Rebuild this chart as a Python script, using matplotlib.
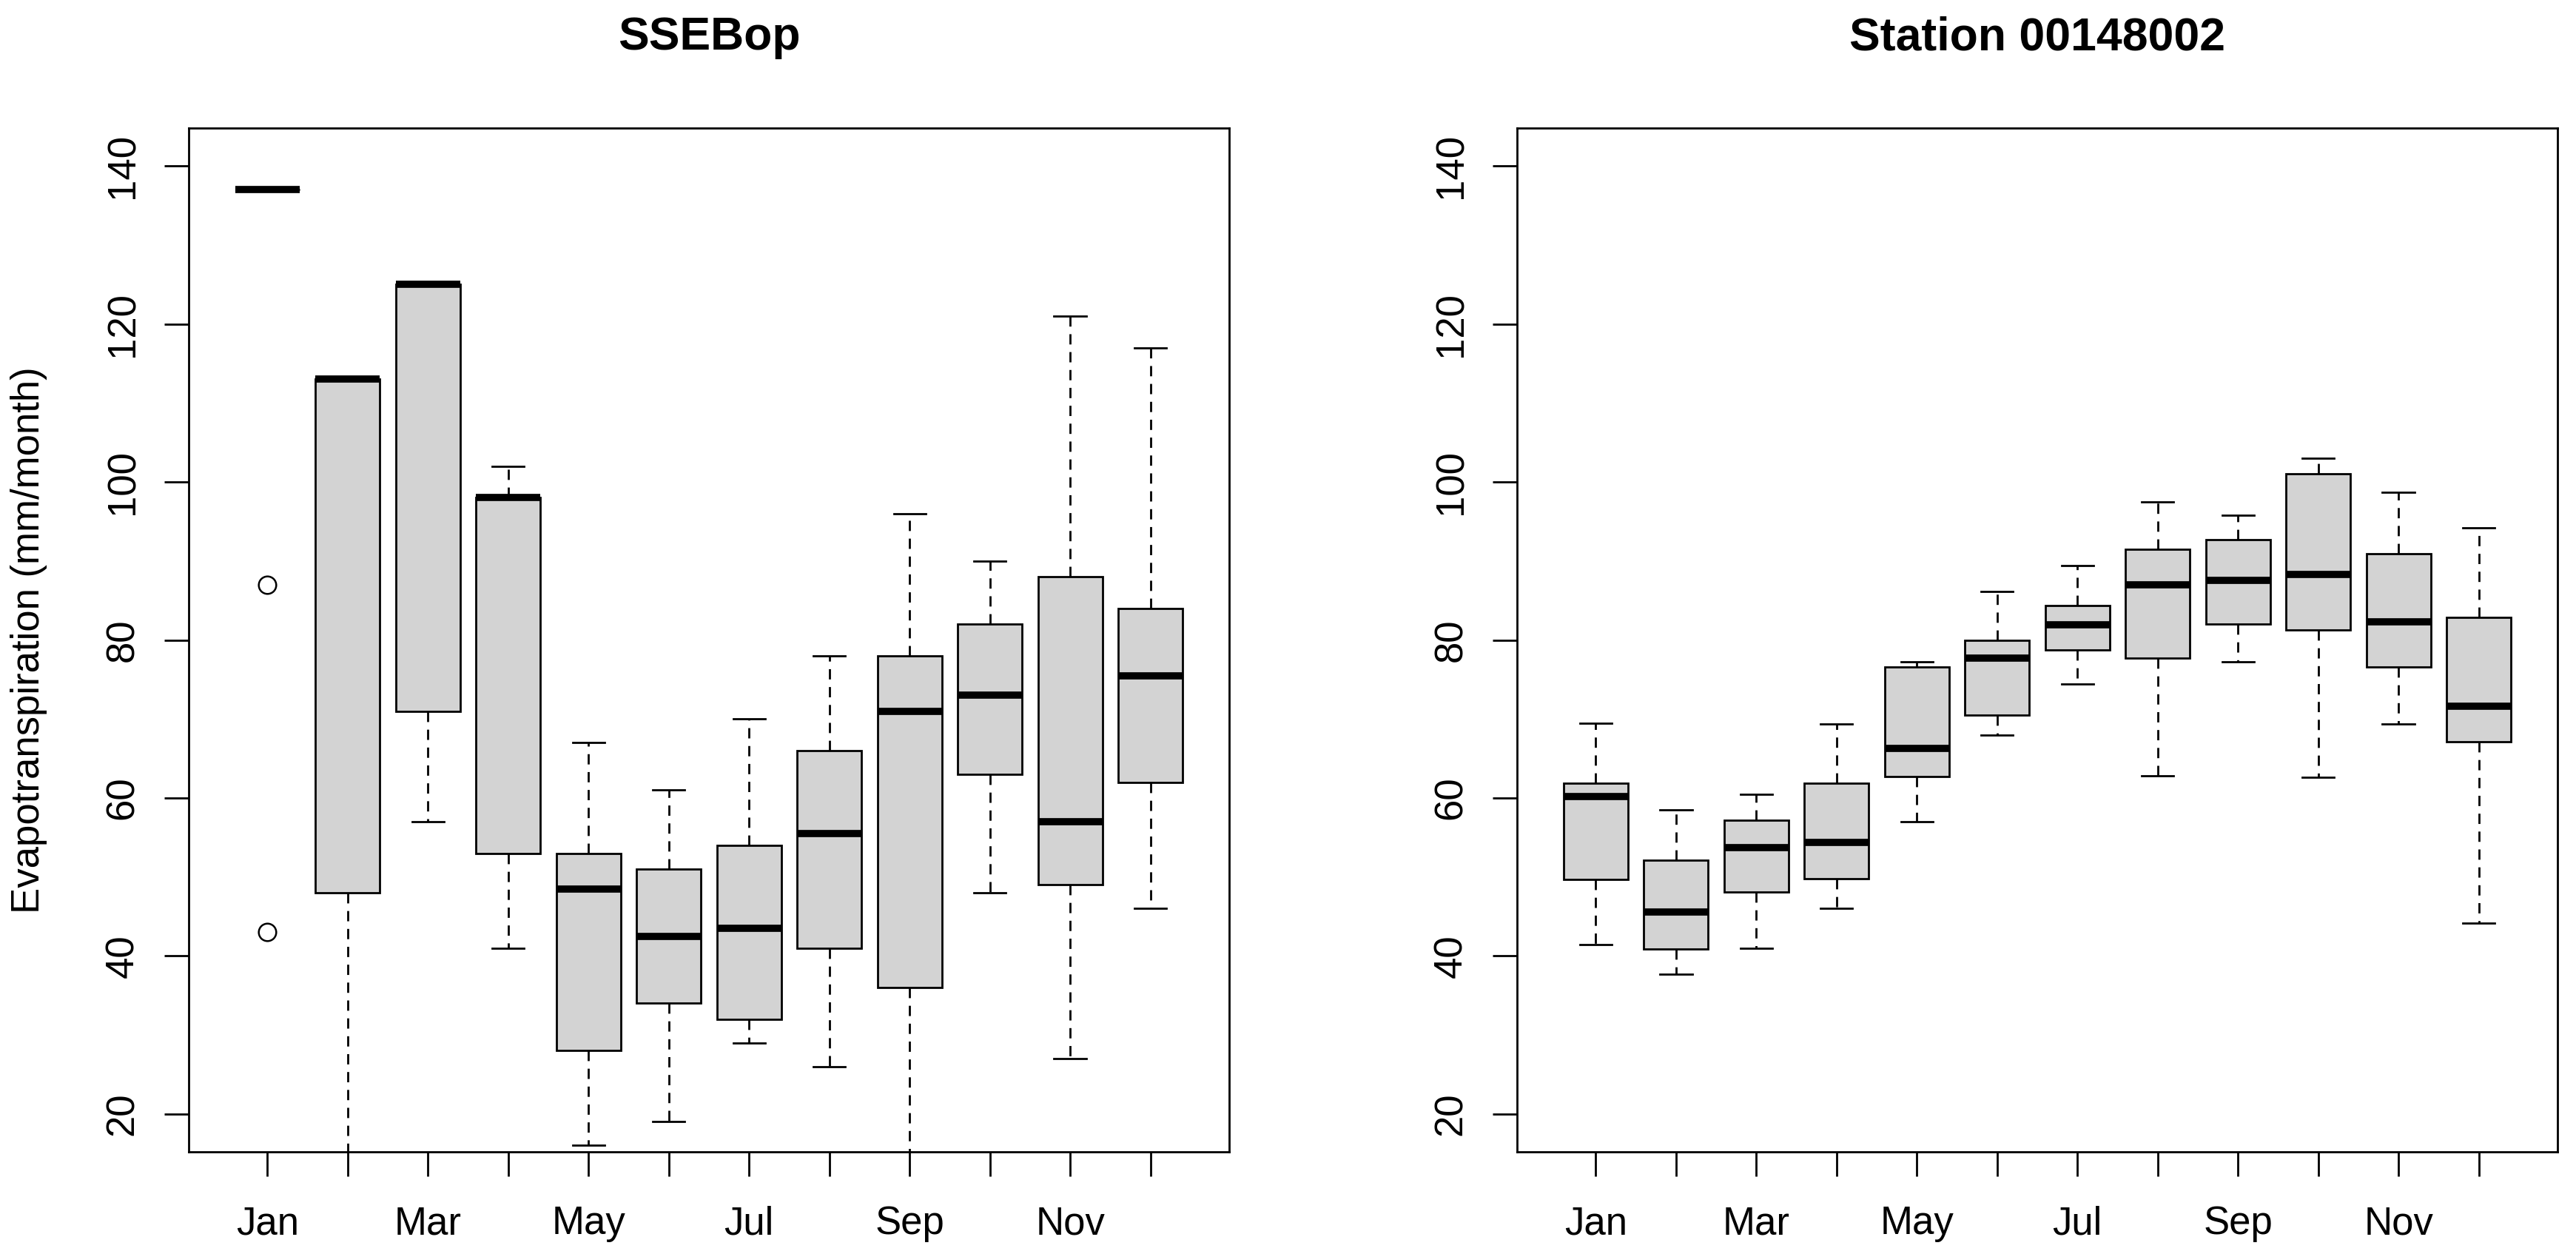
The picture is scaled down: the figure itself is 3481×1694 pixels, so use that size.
import matplotlib
matplotlib.use("Agg")
import matplotlib.pyplot as plt

plt.rcParams["font.family"] = ["Liberation Sans", "DejaVu Sans"]

months = ["Jan", "Feb", "Mar", "Apr", "May", "Jun",
          "Jul", "Aug", "Sep", "Oct", "Nov", "Dec"]
shown_labels = ["Jan", "", "Mar", "", "May", "", "Jul", "", "Sep", "", "Nov", ""]

# SSEBop monthly ET (mm/month)
ssebop_lo = [137, 10, 57, 41, 16, 19, 29, 26, 10, 48, 27, 46]
ssebop_q1 = [137, 48, 71, 53, 28, 34, 32, 41, 36, 63, 49, 62]
ssebop_med = [137, 113, 125, 98, 48.5, 42.5, 43.5, 55.5, 71, 73, 57, 75.5]
ssebop_q3 = [137, 113, 125, 98, 53, 51, 54, 66, 78, 82, 88, 84]
ssebop_hi = [137, 113, 125, 102, 67, 61, 70, 78, 96, 90, 121, 117]
ssebop_out = [[87, 43], [], [], [], [], [], [], [], [], [], [], []]

# Station 00148002
station_lo = [41.4, 37.7, 41.0, 46.0, 57.0, 68.0, 74.4, 62.8, 77.2, 62.6, 69.4, 44.2]
station_q1 = [49.7, 40.9, 48.1, 49.8, 62.7, 70.5, 78.7, 77.7, 82.0, 81.3, 76.6, 67.1]
station_med = [60.2, 45.6, 53.7, 54.4, 66.3, 77.7, 81.9, 87.0, 87.5, 88.3, 82.3, 71.6]
station_q3 = [61.9, 52.1, 57.2, 61.9, 76.6, 80.0, 84.4, 91.5, 92.7, 101.0, 90.9, 82.9]
station_hi = [69.5, 58.5, 60.5, 69.4, 77.2, 86.1, 89.4, 97.5, 95.8, 103.0, 98.7, 94.2]
station_out = [[] for _ in months]

titles = ["SSEBop", "Station 00148002"]
ylabel = "Evapotranspiration (mm/month)"
yticks = [20, 40, 60, 80, 100, 120, 140]


def make_stats(lo, q1, med, q3, hi, out):
    stats = []
    for i in range(len(months)):
        stats.append(dict(label=months[i], whislo=lo[i], q1=q1[i], med=med[i],
                          q3=q3[i], whishi=hi[i], fliers=out[i]))
    return stats


W, H = 3481, 1694
fig = plt.figure(figsize=(W / 100, H / 100), dpi=100)

lw = 2.0
ax_left = [255, 2050]
ax_top, ax_bot, ax_w = 173, 1556, 1406

panels = [
    make_stats(ssebop_lo, ssebop_q1, ssebop_med, ssebop_q3, ssebop_hi, ssebop_out),
    make_stats(station_lo, station_q1, station_med, station_q3, station_hi, station_out),
]

for k, stats in enumerate(panels):
    ax = fig.add_axes([ax_left[k] / W, 1 - ax_bot / H, ax_w / W, (ax_bot - ax_top) / H])
    ax.bxp(
        stats,
        positions=range(1, 13),
        widths=0.8,
        capwidths=0.4,
        patch_artist=True,
        boxprops=dict(facecolor="#D3D3D3", edgecolor="black", linewidth=lw),
        medianprops=dict(color="black", linewidth=7, solid_capstyle="butt"),
        whiskerprops=dict(color="black", linewidth=lw, linestyle=(0, (5, 3.7))),
        capprops=dict(color="black", linewidth=lw),
        flierprops=dict(marker="o", markerfacecolor="none", markeredgecolor="black",
                        markersize=17, markeredgewidth=1.8),
    )
    ax.set_xlim(0.02, 12.98)
    ax.set_ylim(15.2, 144.8)

    ax.set_xticks(range(1, 13))
    ax.set_xticklabels(shown_labels)
    ax.set_yticks(yticks)
    ax.set_yticklabels([str(v) for v in yticks], rotation=90, va="center")

    ax.tick_params(axis="both", length=24, width=lw, labelsize=38, direction="out")
    ax.tick_params(axis="x", pad=28)
    ax.tick_params(axis="y", pad=22)
    for sp in ax.spines.values():
        sp.set_linewidth(lw)

    ax.set_title(titles[k], fontsize=45, fontweight="bold", pad=76)

fig.text(39 / W, 1 - 864.5 / H, ylabel, rotation=90, ha="center", va="center", fontsize=38)

fig.savefig("out.png", dpi=100, facecolor="white")
